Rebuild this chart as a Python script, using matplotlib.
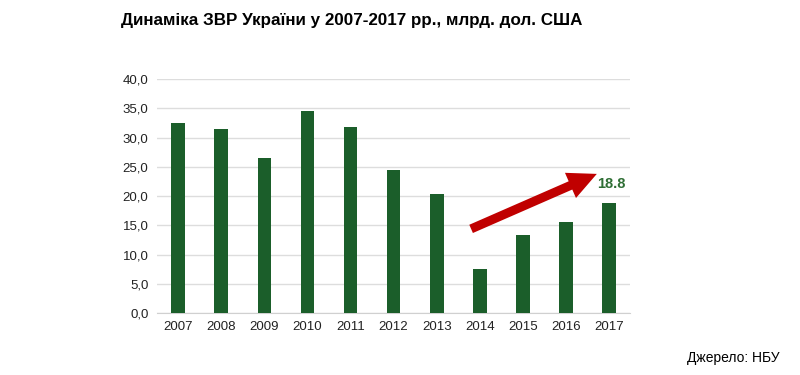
import matplotlib
matplotlib.use("Agg")
import matplotlib.pyplot as plt
import numpy as np

plt.rcParams['font.family'] = ['Liberation Sans', 'DejaVu Sans']

# дані ЗВР, млрд дол. США
years = ["2007", "2008", "2009", "2010", "2011", "2012", "2013", "2014", "2015", "2016", "2017"]
reserves = [32.5, 31.5, 26.5, 34.6, 31.8, 24.5, 20.4, 7.5, 13.3, 15.5, 18.8]
y_ticks = [0, 5, 10, 15, 20, 25, 30, 35, 40]
y_tick_labels = ["0,0", "5,0", "10,0", "15,0", "20,0", "25,0", "30,0", "35,0", "40,0"]

green = "#1b5e2a"
red = "#c00000"

fig = plt.figure(figsize=(8, 3.75), dpi=100)
ax = fig.add_axes([0.196, 0.165, 0.592, 0.624])

x = np.arange(len(years))
ax.bar(x, reserves, width=0.32, color=green, zorder=3)

ax.set_xlim(-0.5, len(years) - 0.5)
ax.set_ylim(0, 40)
ax.set_yticks(y_ticks)
ax.set_yticklabels(y_tick_labels, fontsize=9.5, color="#222222")
ax.set_xticks(x)
ax.set_xticklabels(years, fontsize=9.5, color="#222222")
ax.tick_params(length=0, pad=6)
ax.grid(axis="y", color="#dddddd", linewidth=1, zorder=0)
for s in ["top", "right", "left"]:
    ax.spines[s].set_visible(False)
ax.spines["bottom"].set_color("#d0d0d0")

# стрілка зростання
ax.annotate("", xy=(9.72, 23.8), xytext=(6.8, 14.4),
            arrowprops=dict(arrowstyle="simple,head_length=1.15,head_width=1.1,tail_width=0.36",
                            mutation_scale=18, color=red, lw=0, shrinkA=0, shrinkB=0), zorder=4)
ax.text(x[-1] + 0.05, reserves[-1] + 2.0, "18.8", ha="center", va="bottom",
        fontsize=10.5, fontweight="bold", color="#2f6f35")

fig.text(0.439, 0.945, "Динаміка ЗВР України у 2007-2017 рр., млрд. дол. США",
         ha="center", va="center", fontsize=12.25, fontweight="bold")
fig.text(0.975, 0.045, "Джерело: НБУ", ha="right", va="center", fontsize=10)

fig.savefig("out.png", dpi=100, facecolor="white")
